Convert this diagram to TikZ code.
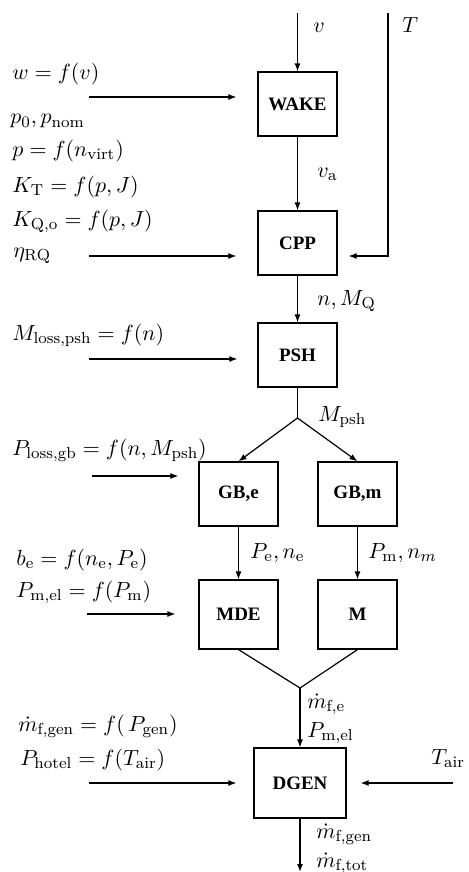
\documentclass[tikz,border=0pt]{standalone}
\usepackage{fontspec}
\newfontfamily\blockfont{Liberation Serif}
\usetikzlibrary{positioning, calc, arrows.meta}

\begin{document}
\begin{tikzpicture}[x=0.5pt, y=-0.5pt,
		every node/.style={font=\fontsize{10.95}{13}\selectfont, inner sep=0pt},
		block/.style={draw, line width=0.6pt, minimum width=39.5pt, minimum height=32pt,
			font=\blockfont\bfseries\fontsize{9.5}{11}\selectfont},
		arr/.style={line width=0.6pt, -{Latex[length=4pt, width=3pt]}},
		eq/.style={anchor=base west},
	]
	\useasboundingbox (0,0) rectangle (468,872);
	% blocks
	\node[block] (wake) at (297.5,104) {WAKE};
	\node[block] (cpp) at (297.5,243) {CPP};
	\node[block] (psh) at (297.5,355) {PSH};
	\node[block] (gbe) at (238.5,494) {GB,e};
	\node[block] (gbm) at (357.5,494) {GB,m};
	\node[block, minimum height=34.5pt] (mde) at (238.5,614.5) {MDE};
	\node[block, minimum height=34.5pt] (m) at (357.5,614.5) {M};
	\node[block, minimum width=46pt, minimum height=35pt] (dgen) at (300,783) {DGEN};
	% free ends
	\coordinate (vin) at (297.5,13);
	\coordinate (tin) at (388,13);
	\coordinate (split) at (297.5,418);
	\coordinate (merge) at (300,688);
	\coordinate (out) at (300,872);
	\coordinate (tair) at (453,783);
	% main chain
	\draw[arr] (vin) -- (wake);
	\draw[arr] (wake) -- (cpp);
	\draw[arr] (cpp) -- (psh);
	\draw[line width=0.6pt] (psh) -- (split);
	\draw[arr] (split) -- (gbe.north);
	\draw[arr] (split) -- (gbm.north);
	\draw[arr] (gbe) -- (mde);
	\draw[arr] (gbm) -- (m);
	\draw[line width=0.6pt] (mde.south) -- (merge) -- (m.south);
	\draw[arr] (merge) -- (dgen);
	\draw[arr] (dgen) -- (out);
	\draw[arr] (tin) |- ($(cpp.east)+(11,13)$);
	\draw[arr] (tair) -- ($(dgen.east)+(14,0)$);
	% inputs from the left
	\foreach \blk/\x/\y/\gap in {wake/89/97/10.5pt, cpp/89/256/10.5pt, psh/89/359/10pt,
			gbe/92/476/10pt, mde/87/614/11.5pt, dgen/89/783/8.5pt}{
		\coordinate (\blk in) at (\x,\y);
		\draw[arr, shorten >=\gap] (\blk in) -- (\blk in -| \blk.west);
	}
	% left relations
	\node[eq] (lw) at (12,80) {$w = f(v)$};
	\node[eq] (lp0) at (10,124) {$p_0, p_{\mathrm{nom}}$};
	\node[eq] (lp) at (12,156) {$p = f(n_{\mathrm{virt}})$};
	\node[eq] (lkt) at (12,192) {$K_{\mathrm{T}} = f(p,J)$};
	\node[eq] (lkq) at (12,226) {$K_{\mathrm{Q,o}} = f(p,J)$};
	\node[eq] (leta) at (13,257) {$\eta_{\mathrm{RQ}}$};
	\node[eq] (lmloss) at (12,340) {$M_{\mathrm{loss,psh}} = f(n)$};
	\node[eq] (lploss) at (12,455) {$P_{\mathrm{loss,gb}} = f\bigl(n, M_{\mathrm{psh}}\bigr)$};
	\node[eq] (lbe) at (16,565) {$b_{\mathrm{e}} = f(n_{\mathrm{e}}, P_{\mathrm{e}})$};
	\node[eq] (lpmel) at (16,597) {$P_{\mathrm{m,el}} = f(P_{\mathrm{m}})$};
	\node[eq] (lmgen) at (18,731) {$\dot m_{\mathrm{f,gen}} = f\bigl(\,P_{\mathrm{gen}}\bigr)$};
	\node[eq] (lhotel) at (20,765) {$P_{\mathrm{hotel}} = f(T_{\mathrm{air}})$};
	% signal labels
	\node[eq] (sv) at (313,33) {$v$};
	\node[eq] (st) at (402,33) {$T$};
	\node[eq] (sva) at (317,177) {$v_{\mathrm{a}}$};
	\node[eq] (snm) at (317,305) {$n, M_{\mathrm{Q}}$};
	\node[eq] (smpsh) at (318,421) {$M_{\mathrm{psh}}$};
	\node[eq] (spe) at (250,558) {$P_{\mathrm{e}}, n_{\mathrm{e}}$};
	\node[eq] (spm) at (368,558) {$P_{\mathrm{m}}, n_m$};
	\node[eq] (smfe) at (307,708) {$\dot m_{\mathrm{f,e}}$};
	\node[eq] (spmel) at (307,737) {$P_{\mathrm{m,el}}$};
	\node[eq] (smfgen) at (316,838) {$\dot m_{\mathrm{f,gen}}$};
	\node[eq] (smftot) at (316,867) {$\dot m_{\mathrm{f,tot}}$};
	\node[eq] (stair) at (431,764) {$T_{\mathrm{air}}$};
\end{tikzpicture}
\end{document}
